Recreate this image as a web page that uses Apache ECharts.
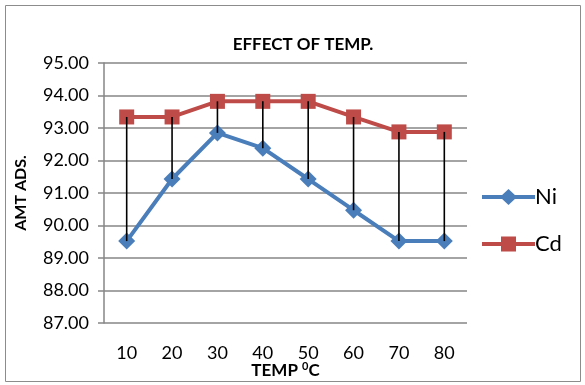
<!DOCTYPE html>
<html>
<head>
<meta charset="utf-8">
<script src="https://cdn.jsdelivr.net/npm/echarts@6/dist/echarts.min.js"></script>
<style>
  html, body { margin: 0; padding: 0; background: #fff; }
  #chart { width: 585px; height: 385px; }
</style>
</head>
<body>
<div id="chart"></div>
<script>
// 温度 / 吸附量
var temps = ["10", "20", "30", "40", "50", "60", "70", "80"];
var niData = [89.52, 91.43, 92.85, 92.38, 91.43, 90.47, 89.52, 89.52];
var cdData = [93.34, 93.34, 93.82, 93.82, 93.82, 93.34, 92.88, 92.88];

var myChart = echarts.init(document.getElementById("chart"));
var font = "Lato, 'Open Sans', sans-serif";

// 图例图标：粗线 + 标记
var niIcon = "path://M0,6 L53,6 L53,10 L0,10 Z M26.5,0 L35,8 L26.5,16 L18,8 Z";
var cdIcon = "path://M0,6 L53,6 L53,10 L0,10 Z M19,0.5 L34,0.5 L34,15.5 L19,15.5 Z";

var option = {
  animation: false,
  textStyle: { fontFamily: font },
  title: {
    text: "EFFECT OF TEMP.",
    left: 298,
    top: 31,
    textAlign: "center",
    textStyle: { fontSize: 17, fontWeight: "bold", color: "#000", fontFamily: font }
  },
  graphic: [
    {
      type: "rect",
      shape: { x: 5.5, y: 5.5, width: 575, height: 376 },
      style: { fill: "none", stroke: "#8c8c8c", lineWidth: 1 }
    }
  ],
  legend: {
    orient: "vertical",
    left: 477,
    top: 181,
    itemWidth: 53,
    itemHeight: 16,
    itemGap: 25,
    textStyle: { fontSize: 22, color: "#000", fontFamily: font, padding: [0, 0, 0, -5] },
    data: [
      { name: "Ni", icon: niIcon },
      { name: "Cd", icon: cdIcon }
    ]
  },
  grid: { left: 104, right: 118, top: 63, bottom: 62, outerBoundsMode: "none", containLabel: false },
  xAxis: {
    type: "category",
    data: temps,
    boundaryGap: true,
    axisLine: { show: false },
    axisTick: { show: false },
    axisLabel: { fontSize: 18, color: "#000", margin: 21 },
    name: "TEMP {sup|0}C",
    nameLocation: "middle",
    nameGap: 38,
    nameMoveOverlap: false,
    nameTextStyle: {
      fontSize: 17,
      fontWeight: "bold",
      color: "#000",
      rich: {
        sup: { fontSize: 11, fontWeight: "bold", verticalAlign: "top", padding: [0, 0, 9, 0] }
      }
    }
  },
  yAxis: {
    type: "value",
    min: 87,
    max: 95,
    interval: 1,
    axisLine: { show: true, lineStyle: { color: "#868686", width: 1.5 } },
    axisTick: { show: true, length: 6, lineStyle: { color: "#868686", width: 1.5 } },
    axisLabel: {
      fontSize: 18,
      color: "#000",
      margin: 15,
      formatter: function(v) { return v.toFixed(2); }
    },
    splitLine: { show: true, lineStyle: { color: "#868686", width: 1.5 } },
    name: "AMT ADS.",
    nameLocation: "middle",
    nameRotate: 90,
    nameGap: 75,
    nameMoveOverlap: false,
    nameTextStyle: { fontSize: 16, fontWeight: "bold", color: "#000" }
  },
  series: [
    {
      name: "Ni",
      type: "line",
      data: niData,
      symbol: "diamond",
      symbolSize: 17,
      lineStyle: { color: "#4a7ebb", width: 4 },
      itemStyle: { color: "#4a7ebb" },
      z: 2
    },
    {
      name: "Cd",
      type: "line",
      data: cdData,
      symbol: "rect",
      symbolSize: 15,
      lineStyle: { color: "#be4b48", width: 4 },
      itemStyle: { color: "#be4b48" },
      z: 3
    },
    {
      // 高低线
      name: "hilo",
      type: "custom",
      data: temps.map(function(t, i) { return [i, cdData[i], niData[i]]; }),
      renderItem: function(params, api) {
        var p1 = api.coord([api.value(0), api.value(1)]);
        var p2 = api.coord([api.value(0), api.value(2)]);
        return {
          type: "line",
          shape: { x1: p1[0], y1: p1[1], x2: p2[0], y2: p2[1] },
          style: { stroke: "#000", lineWidth: 1.6 }
        };
      },
      z: 10,
      silent: true
    }
  ]
};
myChart.setOption(option);
</script>
</body>
</html>
